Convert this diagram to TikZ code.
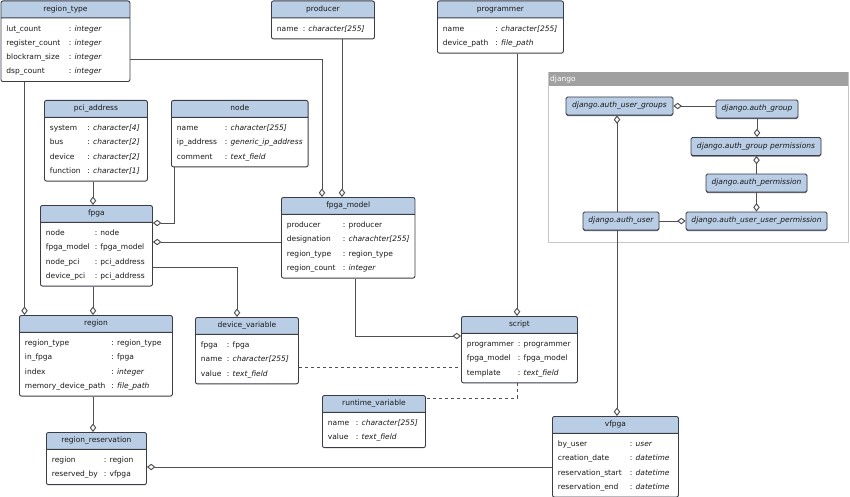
\documentclass[tikz,border=0pt]{standalone}
\usepackage{fontspec}
\setmainfont{DejaVu Sans}
\usetikzlibrary{shapes.multipart,positioning,calc,shadows}
\usetikzlibrary{arrows.meta}
\definecolor{headblue}{RGB}{185,205,229}
\definecolor{boxline}{RGB}{58,60,72}
\definecolor{linkgray}{RGB}{80,80,84}
\definecolor{framegray}{RGB}{160,160,160}
\tikzstyle{agg} = [draw=linkgray,line width=0.95pt,-{Diamond[fill=white,length=8.5pt,width=6.5pt]}]
\tikzstyle{dep} = [draw=linkgray,line width=0.95pt,dashed]

\begin{document}
\begin{tikzpicture}[x=1pt,y=-1pt,
	entity/.style={rectangle split, rectangle split parts=2, rectangle split part fill={headblue,white}, rectangle split part align={center,left}, draw=boxline, line width=0.9pt, rounded corners=2pt, anchor=north west, inner xsep=5.5pt, inner ysep=3pt, text=black!90, font=\fontsize{7.5}{14.2}\selectfont},
	djbox/.style={draw=boxline, fill=headblue, line width=0.8pt, rounded corners=1.5pt, minimum height=18pt, inner xsep=4pt, inner ysep=0pt, text=black!90, drop shadow={shadow xshift=0pt, shadow yshift=-1.2pt, fill=boxline, opacity=0.8}, font=\fontsize{7.5}{9}\selectfont\itshape}]
	
	\useasboundingbox (0,0) rectangle (850,497);
	
	% DJANGO
	
	\draw[draw=framegray!60, line width=0.7pt] (548.5,72) rectangle (848,242);
	\fill[framegray] (548.5,72) rectangle (848,86);
	\node[anchor=west, text=white, inner sep=1pt, font=\fontsize{7.5}{9}\selectfont] (djangotitle) at (549,79) {django};
	
	\node[djbox, minimum width=107pt] (authusergroups) at (619.5,106) {django.auth\_user\_groups};
	\node[djbox, minimum width=82pt] (authgroup) at (757,109) {django.auth\_group};
	\node[djbox, minimum width=130pt] (authgrouppermissions) at (756,146.5) {django.auth\_group permissions};
	\node[djbox, minimum width=101pt] (authpermission) at (756.5,183) {django.auth\_permission};
	\node[djbox, minimum width=76pt] (authuser) at (621,221) {django.auth\_user};
	\node[djbox, minimum width=141pt] (authuseruserpermission) at (756.5,221) {django.auth\_user\_user\_permission};
	
	% ENTITIES
	
	\node[entity, minimum width=129pt, minimum height=77pt] (regiontype) at (0.5,0.5)
	{%
		\nodepart{one}\rule[-3pt]{0pt}{10pt}region\_type
		\nodepart{two}\begin{tabular}{@{}p{62.5pt}@{}l@{}}
			lut\_count & : \textit{integer}\\
			register\_count & : \textit{integer}\\
			blockram\_size & : \textit{integer}\\
			dsp\_count & : \textit{integer}
		\end{tabular}};
	
	\node[entity, minimum width=103pt, minimum height=36pt] (producer) at (271,0.5)
	{%
		\nodepart{one}\rule[-3pt]{0pt}{10pt}producer
		\nodepart{two}\begin{tabular}{@{}p{25.8pt}@{}l@{}}
			name & : \textit{character[255]}
		\end{tabular}};
	
	\node[entity, minimum width=126pt, minimum height=54pt] (programmer) at (437,0.5)
	{%
		\nodepart{one}\rule[-3pt]{0pt}{10pt}programmer
		\nodepart{two}\begin{tabular}{@{}p{52.5pt}@{}l@{}}
			name & : \textit{character[255]}\\
			device\_path & : \textit{file\_path}
		\end{tabular}};
	
	\node[entity, minimum width=103pt, minimum height=77pt] (pciaddress) at (44,100)
	{%
		\nodepart{one}\rule[-3pt]{0pt}{10pt}pci\_address
		\nodepart{two}\begin{tabular}{@{}p{37.5pt}@{}l@{}}
			system & : \textit{character[4]}\\
			bus & : \textit{character[2]}\\
			device & : \textit{character[2]}\\
			function & : \textit{character[1]}
		\end{tabular}};
	
	\node[entity, minimum width=135pt, minimum height=67pt] (node) at (171,100)
	{%
		\nodepart{one}\rule[-3pt]{0pt}{10pt}node
		\nodepart{two}\begin{tabular}{@{}p{48pt}@{}l@{}}
			name & : \textit{character[255]}\\
			ip\_address & : \textit{generic\_ip\_address}\\
			comment & : \textit{text\_field}
		\end{tabular}};
	
	\node[entity, minimum width=112pt, minimum height=82pt] (fpga) at (40,205)
	{%
		\nodepart{one}\rule[-3pt]{0pt}{10pt}fpga
		\nodepart{two}\begin{tabular}{@{}p{48.8pt}@{}l@{}}
			node & : node\\
			fpga\_model & : fpga\_model\\
			node\_pci & : pci\_address\\
			device\_pci & : pci\_address
		\end{tabular}};
	
	\node[entity, minimum width=132pt, minimum height=83pt] (fpgamodel) at (281,197)
	{%
		\nodepart{one}\rule[-3pt]{0pt}{10pt}fpga\_model
		\nodepart{two}\begin{tabular}{@{}p{56pt}@{}l@{}}
			producer & : producer\\
			designation & : \textit{charachter[255]}\\
			region\_type & : region\_type\\
			region\_count & : \textit{integer}
		\end{tabular}};
	
	\node[entity, minimum width=153pt, minimum height=87pt] (region) at (19,315)
	{%
		\nodepart{one}\rule[-3pt]{0pt}{10pt}region
		\nodepart{two}\begin{tabular}{@{}p{86.5pt}@{}l@{}}
			region\_type & : region\_type\\
			in\_fpga & : fpga\\
			index & : \textit{integer}\\
			memory\_device\_path & : \textit{file\_path}
		\end{tabular}};
	
	\node[entity, minimum width=103pt, minimum height=68pt] (devicevariable) at (195,317)
	{%
		\nodepart{one}\rule[-3pt]{0pt}{10pt}device\_variable
		\nodepart{two}\begin{tabular}{@{}p{26pt}@{}l@{}}
			fpga & : fpga\\
			name & : \textit{character[255]}\\
			value & : \textit{text\_field}
		\end{tabular}};
	
	\node[entity, minimum width=116pt, minimum height=71pt] (script) at (461,316)
	{%
		\nodepart{one}\rule[-3pt]{0pt}{10pt}script
		\nodepart{two}\begin{tabular}{@{}p{51pt}@{}l@{}}
			programmer & : programmer\\
			fpga\_model & : fpga\_model\\
			template & : \textit{text\_field}
		\end{tabular}};
	
	\node[entity, minimum width=103pt, minimum height=54pt] (runtimevariable) at (322,395)
	{%
		\nodepart{one}\rule[-3pt]{0pt}{10pt}runtime\_variable
		\nodepart{two}\begin{tabular}{@{}p{28pt}@{}l@{}}
			name & : \textit{character[255]}\\
			value & : \textit{text\_field}
		\end{tabular}};
	
	\node[entity, minimum width=100pt, minimum height=49pt] (regionreservation) at (46,432)
	{%
		\nodepart{one}\rule[-3pt]{0pt}{10pt}region\_reservation
		\nodepart{two}\begin{tabular}{@{}p{52pt}@{}l@{}}
			region & : region\\
			reserved\_by & : vfpga
		\end{tabular}};
	
	\node[entity, minimum width=126pt, minimum height=80pt] (vfpga) at (552,416)
	{%
		\nodepart{one}\rule[-3pt]{0pt}{10pt}vfpga
		\nodepart{two}\begin{tabular}{@{}p{72pt}@{}l@{}}
			by\_user & : \textit{user}\\
			creation\_date & : \textit{datetime}\\
			reservation\_start & : \textit{datetime}\\
			reservation\_end & : \textit{datetime}
		\end{tabular}};
	
	% LINKS
	
	\draw[agg] ([xshift=24pt]regiontype.south west) -- ([xshift=24pt]regiontype.south west |- region.north);
	\draw[agg] ([yshift=-18pt]regiontype.east) -| ([xshift=41pt]fpgamodel.north west);
	\draw[agg] ([xshift=71pt]producer.south west) -- ([xshift=71pt]producer.south west |- fpgamodel.north);
	\draw[agg] ([xshift=80pt]programmer.south west) -- ([xshift=80pt]programmer.south west |- script.north);
	\draw[agg] ([xshift=49pt]pciaddress.south west) -- ([xshift=49pt]pciaddress.south west |- fpga.north);
	\draw[agg] ([xshift=3pt]node.south west) |- ([yshift=-18pt]fpga.north east);
	\draw[agg] ([yshift=-45pt]fpgamodel.north west) -- ([yshift=-45pt]fpgamodel.north west -| fpga.east);
	\draw[agg] ([yshift=-62pt]fpga.north east) -| ([xshift=42pt]devicevariable.north west);
	\draw[agg] ([xshift=53pt]fpga.south west) -- ([xshift=53pt]fpga.south west |- region.north);
	\draw[agg] ([xshift=74pt]fpgamodel.south west) |- ([yshift=-20pt]script.north west);
	\draw[dep] ([yshift=-50pt]devicevariable.north east) -- ([yshift=-50pt]devicevariable.north east -| script.west);
	\draw[dep] ([xshift=56pt]script.south west) |- ([yshift=-3pt]runtimevariable.north east);
	\draw[agg] ([xshift=74pt]region.south west) -- ([xshift=74pt]region.south west |- regionreservation.north);
	\draw[agg] ([yshift=-51pt]vfpga.north west) -- ([yshift=-51pt]vfpga.north west -| regionreservation.east);
	\draw[agg] ([xshift=-4pt]authuser.south) -- ([xshift=-4pt]authuser.south |- vfpga.north);
	\draw[agg] ([xshift=-4pt]authuser.north) -- ([xshift=-4pt]authuser.north |- authusergroups.south);
	\draw[agg] (authusergroups.east -| authgroup.west) -- (authusergroups.east);
	\draw[agg] (authgroup.south) -- (authgroup.south |- authgrouppermissions.north);
	\draw[agg] (authpermission.north) -- (authpermission.north |- authgrouppermissions.south);
	\draw[agg] (authpermission.south) -- (authpermission.south |- authuseruserpermission.north);
	\draw[agg] (authuser.east) -- (authuseruserpermission.west);
	
\end{tikzpicture}
\end{document}
